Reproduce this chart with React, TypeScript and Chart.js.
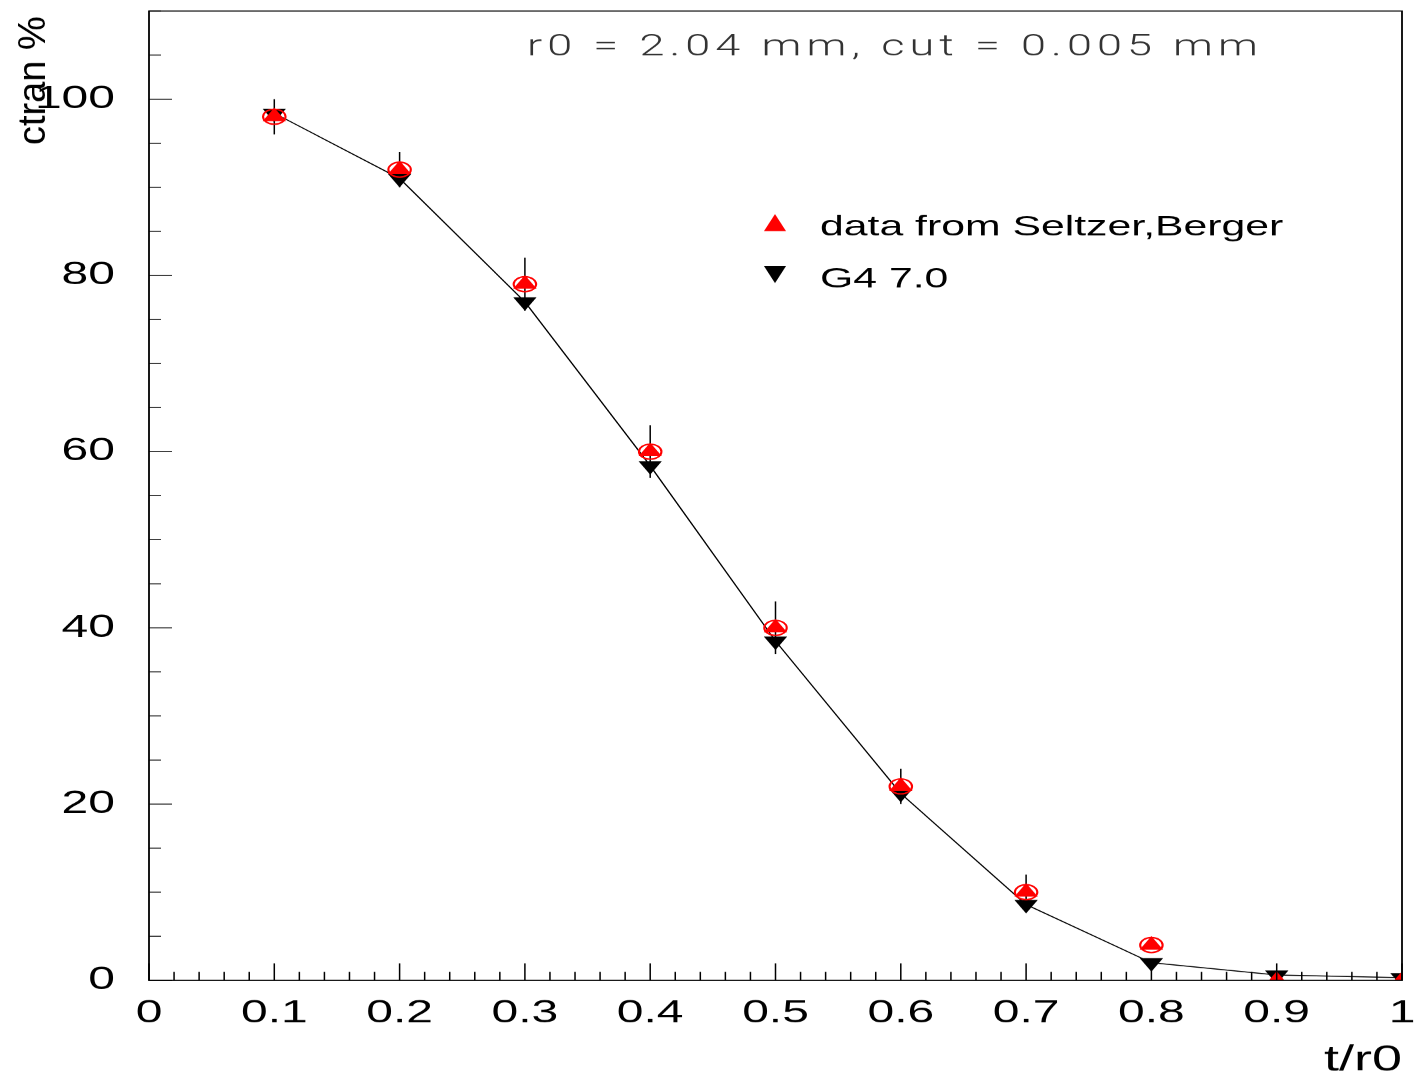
import React, { useEffect, useRef } from 'react';
import { Chart, registerables } from 'chart.js';

Chart.register(...registerables);

// ---------- data ----------
const tOverR0 = [0.1, 0.2, 0.3, 0.4, 0.5, 0.6, 0.7, 0.8, 0.9, 1.0];
const seltzerBerger = [98, 92, 79, 60, 40, 22, 10, 4, 0, 0];
const seltzerBergerErr = [2, 2, 3, 3, 3, 2, 2, 0.5, 0, 0];
const circleT = [0.1, 0.2, 0.3, 0.4, 0.5, 0.6, 0.7, 0.8];
const circleValues = [98, 92, 79, 60, 40, 22, 10, 4];
const g4Values = [98.4, 91, 77, 58.4, 38.5, 21.2, 8.6, 2.0, 0.6, 0.3];

const xMin = 0;
const xMax = 1;
const xStep = 0.1;
const yMin = 0;
const yMax = 110;
const yStep = 5;
const yLabelStep = 20;

const legendLabels = ['data from Seltzer,Berger', 'G4 7.0'];
const annotationText = 'r0 = 2.04 mm, cut = 0.005 mm';
const xTitle = 't/r0';
const yTitle = 'ctran %';

// ---------- layout ----------
const W = 1416;
const H = 1087;
const SX = 1.5; // horizontal stretch of the original picture
const CW = W / SX;
const FONT = '"Liberation Sans", Arial, Helvetica, sans-serif';

const plotLeft = 149 / SX;
const plotRight = 1402 / SX;
const plotTop = 11;
const plotBottom = 980;

const errorBarPlugin = {
  id: 'errorBars',
  beforeDatasetsDraw(chart: any) {
    const { ctx, chartArea: a, scales } = chart;
    const x = scales.x;
    const y = scales.y;
    ctx.save();
    ctx.beginPath();
    ctx.rect(a.left, a.top, a.right - a.left, a.bottom - a.top);
    ctx.clip();
    ctx.strokeStyle = '#000';
    ctx.lineWidth = 1;
    ctx.beginPath();
    tOverR0.forEach((t, i) => {
      const e = seltzerBergerErr[i];
      if (!e) return;
      const v = seltzerBerger[i];
      const px = x.getPixelForValue(t);
      ctx.moveTo(px, y.getPixelForValue(v - e));
      ctx.lineTo(px, y.getPixelForValue(v + e));
    });
    ctx.stroke();
    ctx.restore();
  },
};

const frameTicksPlugin = {
  id: 'frameTicks',
  afterDatasetsDraw(chart: any) {
    const { ctx, chartArea: a, scales } = chart;
    const x = scales.x;
    const y = scales.y;
    ctx.save();
    ctx.strokeStyle = '#000';
    ctx.lineWidth = 1;
    ctx.beginPath();
    y.ticks.forEach((tk: any) => {
      const py = y.getPixelForValue(tk.value);
      const major = Math.abs(tk.value % yLabelStep) < 1e-9;
      const len = major ? 23 / SX : 12 / SX;
      ctx.moveTo(a.left, py);
      ctx.lineTo(a.left + len, py);
    });
    const xv = x.ticks.map((t: any) => t.value);
    xv.forEach((v: number, i: number) => {
      const px = x.getPixelForValue(v);
      ctx.moveTo(px, a.bottom);
      ctx.lineTo(px, a.bottom - 17);
      if (i < xv.length - 1) {
        for (let k = 1; k < 5; k++) {
          const mv = v + ((xv[i + 1] - v) * k) / 5;
          const mp = x.getPixelForValue(mv);
          ctx.moveTo(mp, a.bottom);
          ctx.lineTo(mp, a.bottom - 8.5);
        }
      }
    });
    ctx.stroke();
    ctx.lineWidth = 1.2;
    ctx.strokeRect(a.left, a.top, a.right - a.left, a.bottom - a.top);
    ctx.restore();
  },
};

const textPlugin = {
  id: 'texts',
  afterDraw(chart: any) {
    const { ctx } = chart;
    // legend
    ctx.save();
    ctx.fillStyle = '#000';
    ctx.font = `28.5px ${FONT}`;
    ctx.textAlign = 'left';
    ctx.textBaseline = 'alphabetic';
    ctx.fillText(legendLabels[0], 820 / SX, 235);
    ctx.fillText(legendLabels[1], 820 / SX, 287);
    const mx = 775 / SX;
    const hw = 11 / SX;
    ctx.fillStyle = '#ff0000';
    ctx.beginPath();
    ctx.moveTo(mx, 214);
    ctx.lineTo(mx + hw, 231);
    ctx.lineTo(mx - hw, 231);
    ctx.closePath();
    ctx.fill();
    ctx.fillStyle = '#000';
    ctx.beginPath();
    ctx.moveTo(mx - hw, 266);
    ctx.lineTo(mx + hw, 266);
    ctx.lineTo(mx, 283);
    ctx.closePath();
    ctx.fill();
    ctx.restore();

    // annotation (stretched like the rest of the picture)
    ctx.save();
    ctx.fillStyle = '#333';
    ctx.font = '300 30px Roboto, "DejaVu Sans", sans-serif';
    ctx.textAlign = 'left';
    ctx.textBaseline = 'alphabetic';
    const target = (1258 - 527) / SX;
    const w0 = ctx.measureText(annotationText).width;
    const sp = Math.max(0, (target - w0) / (annotationText.length - 1));
    (ctx as any).letterSpacing = `${sp}px`;
    ctx.fillText(annotationText, 527 / SX, 55);
    ctx.restore();

    // y title (unstretched)
    ctx.save();
    ctx.scale(1 / SX, 1);
    ctx.translate(45, 145);
    ctx.rotate(-Math.PI / 2);
    ctx.fillStyle = '#000';
    ctx.font = `38px ${FONT}`;
    ctx.textAlign = 'left';
    ctx.textBaseline = 'alphabetic';
    ctx.fillText(yTitle, 0, 0);
    ctx.restore();
  },
};

export default function App() {
  const ref = useRef<HTMLCanvasElement>(null);

  useEffect(() => {
    if (!ref.current) return;
    const chart = new Chart(ref.current, {
      type: 'scatter',
      data: {
        datasets: [
          {
            label: legendLabels[0],
            data: tOverR0.map((t, i) => ({ x: t, y: seltzerBerger[i] })),
            showLine: false,
            pointStyle: 'triangle',
            pointRadius: 9,
            pointBackgroundColor: '#ff0000',
            pointBorderColor: '#ff0000',
            pointBorderWidth: 0,
            clip: 0,
            order: 1,
          },
          {
            label: 'circles',
            data: circleT.map((t, i) => ({ x: t, y: circleValues[i] })),
            showLine: false,
            pointStyle: 'circle',
            pointRadius: 7.5,
            pointBackgroundColor: 'rgba(0,0,0,0)',
            pointBorderColor: '#ff0000',
            pointBorderWidth: 1.4,
            clip: 0,
            order: 2,
          },
          {
            label: legendLabels[1],
            data: tOverR0.map((t, i) => ({ x: t, y: g4Values[i] })),
            showLine: true,
            borderColor: '#000',
            borderWidth: 1,
            tension: 0,
            pointStyle: 'triangle',
            pointRotation: 180,
            pointRadius: 9,
            pointBackgroundColor: '#000',
            pointBorderColor: '#000',
            pointBorderWidth: 0,
            clip: 0,
            order: 3,
          },
        ] as any,
      },
      options: {
        animation: false,
        responsive: false,
        devicePixelRatio: SX,
        events: [],
        layout: {
          padding: { left: 0, top: plotTop, right: CW - plotRight, bottom: 0 },
        },
        plugins: {
          legend: { display: false },
          tooltip: { enabled: false },
          title: { display: false },
        },
        scales: {
          x: {
            type: 'linear',
            position: 'bottom',
            min: xMin,
            max: xMax,
            grid: { display: false, drawTicks: false },
            border: { display: false },
            ticks: {
              stepSize: xStep,
              padding: 14,
              color: '#000',
              autoSkip: false,
              maxRotation: 0,
              font: { family: FONT, size: 32 },
              callback: (v: any) => String(+Number(v).toFixed(2)),
            },
            title: {
              display: true,
              text: xTitle,
              align: 'end',
              color: '#000',
              font: { family: FONT, size: 36 },
              padding: { top: 0, bottom: 5 },
            },
            afterFit: (s: any) => {
              s.height = H - plotBottom;
              s.paddingLeft = 0;
              s.paddingRight = 0;
            },
          },
          y: {
            type: 'linear',
            min: yMin,
            max: yMax,
            grid: { display: false, drawTicks: false },
            border: { display: false },
            ticks: {
              stepSize: yStep,
              maxTicksLimit: 40,
              autoSkip: false,
              padding: plotLeft - 115 / SX,
              color: '#000',
              font: { family: FONT, size: 32 },
              callback: (v: any) => (Math.abs(Number(v) % yLabelStep) < 1e-9 ? String(v) : ''),
            },
            afterFit: (s: any) => {
              s.width = plotLeft;
              s.paddingTop = 0;
              s.paddingBottom = 0;
            },
          },
        },
      } as any,
      plugins: [errorBarPlugin, frameTicksPlugin, textPlugin],
    });
    return () => chart.destroy();
  }, []);

  return (
    <div
      style={{
        position: 'absolute',
        left: 0,
        top: 0,
        width: W,
        height: H,
        overflow: 'hidden',
        background: '#fff',
      }}
    >
      <canvas
        ref={ref}
        width={CW}
        height={H}
        style={{ width: `${W}px`, height: `${H}px`, display: 'block' }}
      />
    </div>
  );
}
